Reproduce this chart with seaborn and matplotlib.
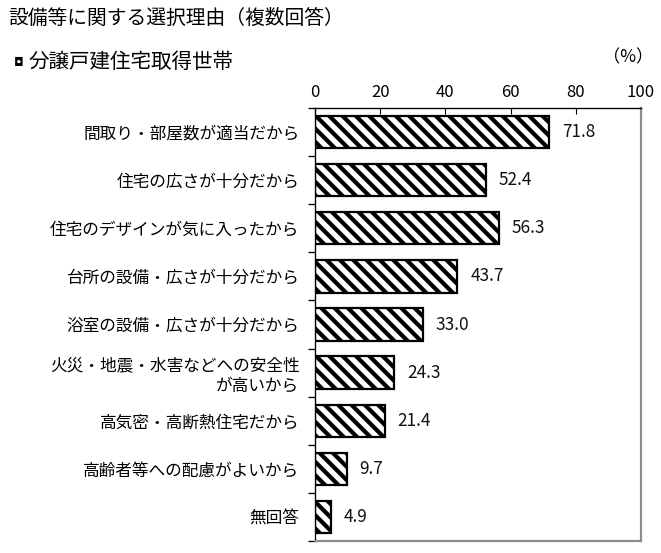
import matplotlib
matplotlib.use("Agg")
import matplotlib.pyplot as plt
import seaborn as sns
import numpy as np

# data
categories = [
    "間取り・部屋数が適当だから",
    "住宅の広さが十分だから",
    "住宅のデザインが気に入ったから",
    "台所の設備・広さが十分だから",
    "浴室の設備・広さが十分だから",
    "火災・地震・水害などへの安全性\nが高いから",
    "高気密・高断熱住宅だから",
    "高齢者等への配慮がよいから",
    "無回答",
]
values = [71.8, 52.4, 56.3, 43.7, 33.0, 24.3, 21.4, 9.7, 4.9]
xticks = [0, 20, 40, 60, 80, 100]

sns.set_theme(style="white")
plt.rcParams["font.family"] = ["Noto Sans CJK JP", "DejaVu Sans"]
plt.rcParams["hatch.linewidth"] = 3.8
plt.rcParams["hatch.color"] = "black"

DPI = 80
fig = plt.figure(figsize=(661 / DPI, 553 / DPI), dpi=DPI)
ax = fig.add_axes([315 / 661, 1 - 541 / 553, 326 / 661, 433 / 553])

sns.barplot(x=values, y=categories, orient="h", color="white",
            edgecolor="black", linewidth=2, width=0.67, saturation=1, ax=ax)
for p in ax.patches:
    p.set_hatch("\\\\")
    p.set_facecolor("white")

# value labels
for i, v in enumerate(values):
    ax.text(v + 4.0, i, f"{v:.1f}", va="center", ha="left", fontsize=15.5, color="#111111")

ax.set_xlim(0, 100)
ax.set_ylim(len(categories) - 0.5, -0.5)
ax.set_xticks(xticks)
ax.xaxis.tick_top()
ax.tick_params(axis="x", which="major", top=True, bottom=False, direction="in", length=5,
               width=1, color="black", labelsize=15, pad=6, labelcolor="black")
ax.tick_params(axis="y", which="major", left=False, length=0, labelsize=15, pad=14,
               labelcolor="black")
ax.set_yticks(np.arange(len(categories) + 1) - 0.5, minor=True)
ax.tick_params(axis="y", which="minor", left=True, direction="out", length=6, width=1.2,
               color="black")
ax.set_xlabel("")
ax.set_ylabel("")

for side in ["left", "top"]:
    ax.spines[side].set_color("black")
    ax.spines[side].set_linewidth(1.2)
for side in ["right", "bottom"]:
    ax.spines[side].set_color("#8c8c8c")
    ax.spines[side].set_linewidth(2)

fig.text(8 / 661, 1 - 18 / 553, "設備等に関する選択理由（複数回答）", fontsize=17.8,
         va="center", ha="left", color="black")
fig.text(14 / 661, 1 - 62 / 553, "◘", fontsize=11, va="center", ha="left",
         family=["DejaVu Sans"], color="black")
fig.text(29 / 661, 1 - 62 / 553, "分譲戸建住宅取得世帯", fontsize=18.5,
         va="center", ha="left", color="black")
fig.text(653 / 661, 1 - 57 / 553, "（%）", fontsize=15.5, va="center", ha="right", color="black")

fig.savefig("out.png", dpi=DPI)
